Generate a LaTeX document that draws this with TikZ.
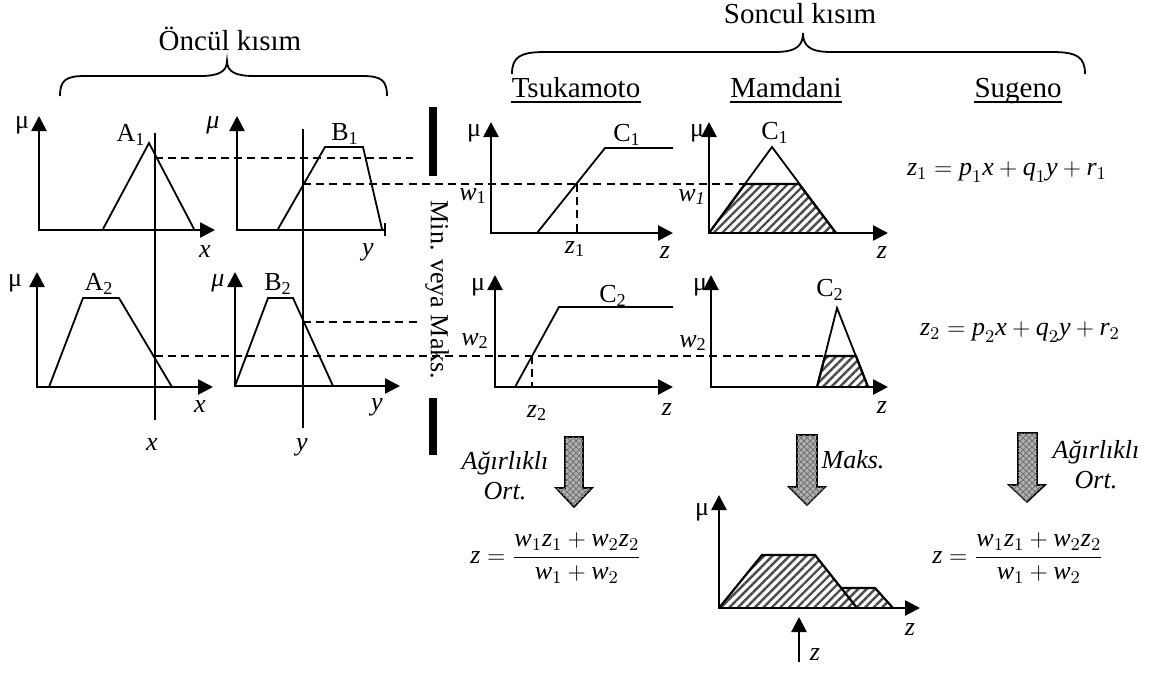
\documentclass[tikz,border=0pt]{standalone}
\usepackage{fontspec}
\setmainfont{Liberation Serif}
\usetikzlibrary{arrows.meta,patterns,patterns.meta}
\newcommand\vv[1]{\textit{#1}}
\newcommand\sbx[1]{\textsubscript{#1}}
\begin{document}
\begin{tikzpicture}[x=0.5pt,y=-0.5pt,
 axes/.style={line width=1.3pt,line join=miter,{Triangle[length=7.5pt,width=7.5pt]}-{Triangle[length=7.5pt,width=7.5pt]}},
 upax/.style={line width=1.3pt,line join=miter,{Triangle[length=7.5pt,width=7.5pt]}-},
 curve/.style={line width=0.9pt,line join=miter},
 dsh/.style={line width=0.8pt,dash pattern=on 4pt off 2.6pt},
 vline/.style={line width=0.8pt},
 lbl/.style={font=\fontsize{13}{15}\selectfont,inner sep=0pt},
 ttl/.style={font=\fontsize{14.5}{17}\selectfont,inner sep=0pt},
 hatch/.style={pattern={Lines[angle=45,distance=3pt,line width=1.2pt]},pattern color=black!70},
 hedge/.style={line width=1.1pt,line join=miter},
 bar/.style={line width=4pt},
 fat/.style={draw=black,line width=0.8pt,fill=gray!60,postaction={pattern=crosshatch,pattern color=black!55}},
 brace/.style={line width=0.9pt}
]
\useasboundingbox (0,0) rectangle (1154,675);

% ---------- braces and titles ----------
\draw[brace] (60,96) .. controls (60,80) and (66,76) .. (85,76) -- (200,76)
  .. controls (218,76) and (227,72) .. (227,61)
  .. controls (227,72) and (236,76) .. (254,76) -- (362,76)
  .. controls (381,76) and (387,80) .. (387,96);
\node[ttl] (oncul) at (230,39) {Öncül kısım};
\draw[brace] (512,74) .. controls (512,57) and (520,52) .. (545,52) -- (775,52)
  .. controls (796,52) and (803,46) .. (803,33)
  .. controls (803,46) and (810,52) .. (831,52) -- (1052,52)
  .. controls (1077,52) and (1085,57) .. (1085,74);
\node[ttl] (soncul) at (800,14) {Soncul kısım};
\node[ttl,anchor=base] (tsu) at (576,97) {Tsukamoto};
\node[ttl,anchor=base] (mam) at (786,97) {Mamdani};
\node[ttl,anchor=base] (sug) at (1018,97) {Sugeno};
\foreach \n in {tsu,mam,sug}
  \draw[line width=0.8pt] ([yshift=-2.6pt]\n.base west) -- ([yshift=-2.6pt]\n.base east);

% ---------- A1 ----------
\draw[axes] (39,116) -- (39,230) -- (215,230);
\node[lbl] (muA1) at (22,125) {μ};
\draw[curve] (103,229) -- (149,143) -- (194,229);
\node[lbl] (lA1) at (131,135) {A\sbx{1}};
\node[lbl] (xA1) at (205,252) {\vv{x}};

% ---------- B1 ----------
\draw[upax] (237,116) -- (237,230) -- (385,230);
\draw[line width=0.6pt] (385,223) -- (385,236);
\node[lbl] (muB1) at (213,125) {\vv{μ}};
\draw[curve] (278,229) -- (325,147) -- (363,147) -- (382,229);
\node[lbl] (lB1) at (345,134) {B\sbx{1}};
\node[lbl] (yB1) at (368,252) {\vv{y}};

% ---------- A2 ----------
\draw[axes] (37,272) -- (37,387) -- (213,387);
\node[lbl] (muA2) at (15,283) {μ};
\draw[curve] (49,387) -- (83,298) -- (119,298) -- (172,387);
\node[lbl] (lA2) at (99,284) {A\sbx{2}};
\node[lbl] (xA2) at (200,407) {\vv{x}};

% ---------- B2 ----------
\draw[axes] (235,272) -- (235,386) -- (400,386);
\node[lbl] (muB2) at (218,283) {\vv{μ}};
\draw[curve] (235,386) -- (268,298) -- (293,298) -- (333,386);
\node[lbl] (lB2) at (278,284) {B\sbx{2}};
\node[lbl] (yB2) at (377,407) {\vv{y}};

% ---------- input lines ----------
\draw[vline] (155,133) -- (155,420);
\draw[vline] (303,129) -- (303,428);
\node[lbl] (xin) at (152,445) {\vv{x}};
\node[lbl] (yin) at (302,447) {\vv{y}};
\draw[dsh] (155,158) -- (413,158);
\draw[dsh] (303,322) -- (418,322);
\draw[dsh] (303,184) -- (745,184);
\draw[dsh] (155,356) -- (825,356);

% ---------- Min veya Maks ----------
\draw[bar] (433,107) -- (433,176);
\draw[bar] (433,398) -- (433,455);
\node[lbl,rotate=-90] (minmaks) at (437,290) {Min. veya Maks.};

% ---------- Tsukamoto ----------
\draw[axes] (491,122) -- (491,233) -- (673,233);
\node[lbl] (muT1) at (474,133) {μ};
\draw[curve] (537,233) -- (605,148) -- (673,148);
\node[lbl] (lTC1) at (627,135) {C\sbx{1}};
\draw[dsh] (577,184) -- (577,233);
\node[lbl] (z1T) at (575,249) {\vv{z}\sbx{1}};
\node[lbl] (zT1) at (665,253) {\vv{z}};
\node[lbl] (w1T) at (473,196) {\vv{w}\sbx{1}};

\draw[axes] (495,275) -- (495,387) -- (673,387);
\node[lbl] (muT2) at (478,287) {μ};
\draw[curve] (515,387) -- (559,307) -- (673,307);
\node[lbl] (lTC2) at (613,296) {C\sbx{2}};
\draw[dsh] (532,356) -- (532,387);
\node[lbl] (z2T) at (537,413) {\vv{z}\sbx{2}};
\node[lbl] (zT2) at (667,410) {\vv{z}};
\node[lbl] (w2T) at (475,341) {\vv{w}\sbx{2}};

% ---------- Mamdani ----------
\fill[hatch] (709,233) -- (745,184) -- (799,184) -- (836,233) -- cycle;
\draw[axes] (709,122) -- (709,233) -- (888,233);
\node[lbl] (muM1) at (697,133) {μ};
\draw[curve] (709,233) -- (772,147) -- (836,233);
\draw[hedge] (709,233) -- (745,184) -- (799,184) -- (836,233);
\node[lbl] (lMC1) at (775,133) {C\sbx{1}};
\node[lbl] (w1M) at (692,197) {\vv{w}\sbx{\vv{1}}};
\node[lbl] (zM1) at (882,253) {\vv{z}};

\fill[hatch] (817,387) -- (825,356) -- (856,356) -- (868,387) -- cycle;
\draw[axes] (711,275) -- (711,387) -- (888,387);
\node[lbl] (muM2) at (700,287) {μ};
\draw[curve] (817,387) -- (837,308) -- (868,387);
\draw[hedge] (817,387) -- (825,356) -- (856,356) -- (868,387);
\node[lbl] (lMC2) at (830,290) {C\sbx{2}};
\node[lbl] (w2M) at (693,343) {\vv{w}\sbx{2}};
\node[lbl] (zM2) at (882,408) {\vv{z}};

% ---------- Sugeno ----------
\node[lbl] (sz1) at (1007,172) {$\vv{z}_1 = \vv{p}_1\vv{x}+\vv{q}_1\vv{y}+\vv{r}_1$};
\node[lbl] (sz2) at (1020,332) {$\vv{z}_2 = \vv{p}_2\vv{x}+\vv{q}_2\vv{y}+\vv{r}_2$};

% ---------- fat arrows ----------
\path[fat] (565,437) -- (583,437) -- (583,488) -- (592,488) -- (574,507) -- (556,488) -- (565,488) -- cycle;
\path[fat] (797,435) -- (817,435) -- (817,487) -- (825,487) -- (807,505) -- (789,487) -- (797,487) -- cycle;
\path[fat] (1018,433) -- (1037,433) -- (1037,485) -- (1045,485) -- (1027,502) -- (1009,485) -- (1018,485) -- cycle;
\node[lbl,align=center] (agT) at (505,476) {\vv{Ağırlıklı}\\\vv{Ort.}};
\node[lbl] (mk) at (853,460) {\vv{Maks.}};
\node[lbl,align=center] (agS) at (1096,465) {\vv{Ağırlıklı}\\\vv{Ort.}};

% ---------- results ----------
\node[lbl] (fT) at (556,558) {$\displaystyle\vv{z} = \frac{\vv{w}_1\vv{z}_1 + \vv{w}_2\vv{z}_2}{\vv{w}_1 + \vv{w}_2}$};
\node[lbl] (fS) at (1018,558) {$\displaystyle\vv{z} = \frac{\vv{w}_1\vv{z}_1 + \vv{w}_2\vv{z}_2}{\vv{w}_1 + \vv{w}_2}$};

% ---------- aggregated output ----------
\fill[hatch] (719,608) -- (762,555) -- (815,555) -- (842,588) -- (875,588) -- (893,608) -- cycle;
\draw[axes] (719,495) -- (719,608) -- (920,608);
\node[lbl] (muAg) at (702,512) {μ};
\draw[hedge] (719,608) -- (762,555) -- (815,555) -- (857,608);
\draw[hedge] (842,588) -- (875,588) -- (893,608);
\node[lbl] (zAg) at (910,630) {\vv{z}};
\coordinate (zs) at (799,662);
\coordinate (ze) at (799,617);
\draw[upax] (ze) -- (zs);
\node[lbl] (zout) at (815,655) {\vv{z}};
\end{tikzpicture}
\end{document}
